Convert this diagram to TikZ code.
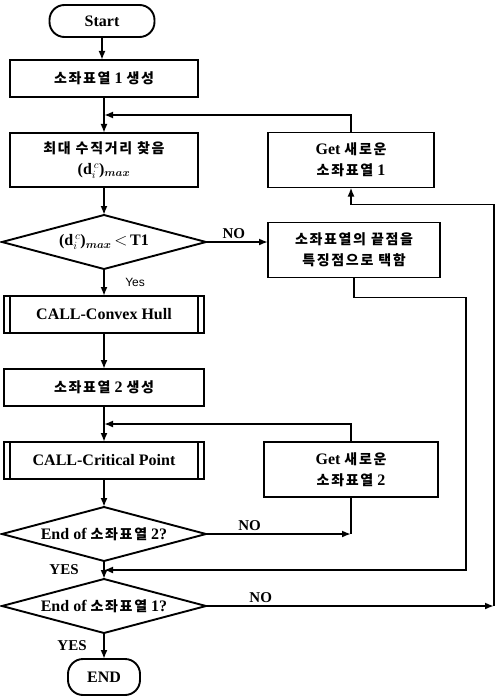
\documentclass[tikz,border=0pt]{standalone}
\usepackage{amsmath}
\usepackage{fontspec}
\setmainfont{Liberation Serif}
\newfontfamily\krfont[LetterSpace=12]{Noto Sans CJK KR}
\newfontfamily\labelfont{Liberation Sans}
\usetikzlibrary{arrows.meta,positioning,calc,shapes.geometric}
\newcommand{\ko}[1]{{\krfont\bfseries\fontsize{14}{20}\selectfont #1}}
\newcommand{\dmax}{\textbf{(d}$_{i}^{\,c}$\textbf{)}$_{\boldsymbol{max}}$}

\begin{document}
\begin{tikzpicture}[
    x=1pt, y=1pt,
    every node/.style={font=\fontsize{16}{21}\selectfont\bfseries, outer sep=0pt},
    box/.style={draw, line width=1.9pt, align=center, minimum width=188pt, minimum height=37pt},
    callbox/.style={box, minimum width=200pt, path picture={
        \draw[line width=1.9pt] ([xshift=6pt]path picture bounding box.north west) -- ([xshift=6pt]path picture bounding box.south west)
            ([xshift=-6pt]path picture bounding box.north east) -- ([xshift=-6pt]path picture bounding box.south east);}},
    term/.style={draw, line width=1.9pt, rounded corners=15pt, minimum width=105pt, minimum height=32pt},
    decision/.style={draw, line width=1.9pt, diamond, aspect=4, inner xsep=-30pt, inner ysep=0pt, minimum width=204pt, minimum height=54pt},
    sidebox/.style={box, minimum height=55pt},
    arrow/.style={-{Latex[length=9pt,width=7pt]}, line width=1.9pt},
    line/.style={line width=1.9pt},
    tag/.style={font=\fontsize{15}{17}\selectfont\bfseries},
    node distance=27pt and 60pt
]
\useasboundingbox (0,0) rectangle (499,-698);

% main column
\node[term] (start) at (102,-21) {Start};
\node[box, below=23pt of start, xshift=2pt] (gen1) {\ko{소좌표열} 1 \ko{생성}};
\node[box, minimum height=54pt, below=36pt of gen1] (findmax) {\ko{최대 수직거리 찾음}\\ \dmax};
\node[decision, below=28pt of findmax] (test1) {\dmax\,$<$\,T1};
\node[callbox, below=27pt of test1] (hull) {CALL-Convex Hull};
\node[box, minimum width=200pt, below=36pt of hull] (gen2) {\ko{소좌표열} 2 \ko{생성}};
\node[callbox, below=36pt of gen2] (crit) {CALL-Critical Point};
\node[decision, below=28pt of crit] (test2) {End of \ko{소좌표열} 2?};
\node[decision, below=18pt of test2] (test3) {End of \ko{소좌표열} 1?};
\node[term, minimum width=72pt, minimum height=36pt, below=26pt of test3] (stop) {END};

% side boxes
\node[sidebox, minimum width=166pt, right=70pt of findmax] (get1) {Get \ko{새로운}\\ \ko{소좌표열} 1};
\node[sidebox, minimum width=172pt, right=62pt of test1, yshift=-8pt] (pick) {\ko{소좌표열의 끝점을}\\ \ko{특징점으로 택함}};
\node[sidebox, minimum width=174pt, right=60pt of crit, yshift=-9pt] (get2) {Get \ko{새로운}\\ \ko{소좌표열} 2};

% junctions
\coordinate (join1) at ($(gen1.south)!0.5!(findmax.north)$);
\coordinate (join2) at ($(gen2.south)!0.5!(crit.north)$);
\coordinate (join3) at ($(test2.south)!0.5!(test3.north)$);
\coordinate (turn2) at (test2.east -| get2.south);
\coordinate (back1) at ($(pick.south)+(112,-20)$);
\coordinate (edge1) at ($(test3.east)+(288,0)$);

\draw[arrow] (start) -- (start |- gen1.north);
\draw[arrow] (gen1) -- (findmax);
\draw[arrow] (get1.north) |- (join1);
\draw[arrow] (findmax) -- (test1);
\draw[arrow] (test1.east) -- node[tag, above, pos=0.45] {NO} (test1.east -| pick.west);
\draw[arrow] (test1) -- node[right, xshift=18pt, font=\labelfont\fontsize{12}{14}\selectfont] {Yes} (hull);
\draw[arrow] (hull) -- (gen2);
\draw[arrow] (gen2) -- (crit);
\draw[arrow] (get2.north) |- (join2);
\draw[arrow] (crit) -- (test2);
\draw[arrow] (test2.east) -- node[tag, above, pos=0.3] {NO} (turn2);
\draw[line] (get2.south) -- (turn2);
\draw[arrow] (test2) -- node[tag, left, xshift=-22pt] {YES} (test3);
\draw[arrow] (pick.south) |- (back1) |- (join3);
\draw[arrow] (test3.east) -- node[tag, above, pos=0.19] {NO} (edge1);
\draw[arrow] (edge1) |- ($(get1.south)+(0,-17)$) -- (get1.south);
\draw[arrow] (test3) -- node[tag, left, xshift=-14pt] {YES} (stop);
\end{tikzpicture}
\end{document}
